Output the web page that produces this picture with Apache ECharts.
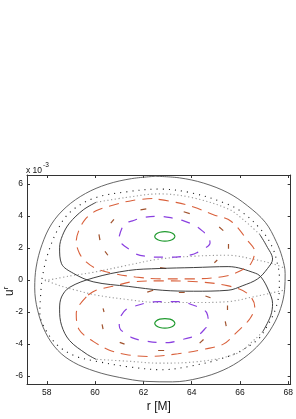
<!DOCTYPE html>
<html><head><meta charset="utf-8">
<script src="https://cdn.jsdelivr.net/npm/echarts@6/dist/echarts.min.js"></script>
<style>html,body{margin:0;padding:0;background:#fff}#c{width:296px;height:419px}</style>
</head><body><div id="c"></div>
<script>
// ---- data (r in M, u^r in units of 1e-3) ----
const X_TICKS = [58, 60, 62, 64, 66, 68];
const Y_TICKS = [-6, -4, -2, 0, 2, 4, 6];

const outerCurve = [[62.5,6.48],[63.5,6.38],[64.5,6.05],[65.5,5.45],[66.3,4.65],[67.05,3.6],[67.5,2.4],[67.75,1.4],[67.87,0.4],[67.85,-0.6],[67.68,-1.8],[67.35,-2.9],[66.85,-3.95],[66.15,-4.9],[65.3,-5.65],[64.3,-6.15],[63.2,-6.38],[62.1,-6.35],[61.0,-6.1],[60.0,-5.72],[59.1,-5.15],[58.45,-4.4],[57.95,-3.3],[57.62,-1.9],[57.5,-0.5],[57.56,0.8],[57.8,2.2],[58.2,3.5],[58.8,4.55],[59.6,5.4],[60.5,5.98],[61.5,6.33],[62.5,6.48]];

const dottedBlack = [[57.80,0.06],[58.0,1.42],[58.41,3.02],[58.94,4.20],[59.92,5.09],[61.27,5.50],[62.65,5.68],[64.0,5.44],[65.39,4.79],[66.12,4.20],[66.94,3.02],[67.35,2.01],[67.55,1.01],[67.63,0.24],[67.63,-0.53],[67.47,-1.83],[67.1,-2.96],[66.65,-3.85],[65.51,-4.79],[64.0,-5.38],[62.78,-5.62],[61.39,-5.44],[60.04,-5.09],[59.22,-4.79],[58.53,-4.20],[58.0,-3.25],[57.71,-2.07],[57.80,0.06]];

const upperLobeSolid = [[60.04,4.85],[59.51,4.38],[58.94,3.55],[58.65,2.78],[58.53,2.01],[58.61,1.01],[59.10,0.41],[59.92,-0.12],[61.39,-0.41],[62.78,-0.65],[64.08,-0.71],[65.51,-0.65],[66.12,-0.36],[66.73,0.06],[67.14,0.71],[67.35,1.30],[67.10,2.13],[66.82,2.84]];
const upperLobeTop = [[66.82,2.84],[66.12,3.79],[65.51,4.44],[64.0,5.15],[62.65,5.38],[61.27,5.15],[60.04,4.85]];

const lowerLobeSolid = [[60.04,-4.97],[59.63,-4.62],[58.94,-3.79],[58.61,-2.84],[58.53,-1.83],[58.61,-1.07],[58.94,-0.47],[59.92,0.12],[61.39,0.59],[62.65,0.71],[64.08,0.77],[65.51,0.83],[66.65,0.41],[66.90,0.12],[67.18,-0.65],[67.35,-1.48],[67.27,-2.25],[66.94,-3.25]];
const lowerLobeBottom = [[66.94,-3.25],[66.65,-3.67],[65.84,-4.62],[64.0,-5.15],[62.65,-5.21],[61.39,-5.09],[60.04,-4.97]];

const midArcUpper = [[57.92,-0.06],[58.94,0.24],[59.92,0.47],[61.27,0.89],[62.65,1.30],[64.08,1.48],[65.51,1.54],[66.53,1.30],[67.35,1.01],[67.80,0.77]];
const midArcLower = [[57.92,0.0],[58.53,-0.36],[59.22,-0.65],[60.04,-0.95],[61.39,-1.24],[62.65,-1.42],[64.08,-1.42],[65.51,-1.36],[66.53,-1.07],[67.27,-0.83],[67.80,-0.65]];

const orangeUpper = [[62.37,5.09],[61.55,4.97],[60.73,4.67],[60.04,4.32],[59.59,3.79],[59.31,3.02],[59.22,2.43],[59.35,1.66],[59.63,1.12],[60.04,0.71],[60.73,0.41],[61.67,0.18],[62.78,0.06],[63.92,0.06],[65.43,0.24],[66.12,0.65],[66.45,1.01],[66.61,1.78],[66.33,2.43],[65.63,3.67],[64.90,4.08],[64.08,4.56],[63.35,4.85],[62.37,5.09]];
const orangeLower = [[59.71,-0.95],[60.04,-0.65],[60.86,-0.36],[61.55,-0.12],[62.78,-0.06],[64.24,-0.12],[65.47,-0.36],[66.29,-0.83],[66.61,-1.66],[66.41,-2.43],[65.84,-3.31],[65.31,-4.02],[64.57,-4.32],[63.43,-4.62],[62.2,-4.79],[61.27,-4.67],[60.57,-4.38],[59.92,-3.85],[59.35,-3.14],[59.22,-2.13],[59.31,-1.66],[59.71,-0.95]];

const purpleUpper = [[61.0,2.72],[61.21,3.49],[61.55,3.69],[61.96,3.89],[62.57,3.98],[63.13,3.89],[63.67,3.69],[64.15,3.39],[64.49,3.0],[64.69,2.70],[64.76,2.31],[64.53,1.95],[64.24,1.72],[64.01,1.58],[63.54,1.46],[63.06,1.42],[62.65,1.42],[62.16,1.46],[61.69,1.62],[61.42,1.91],[61.14,2.21],[61.0,2.50],[61.0,2.72]];
const purpleLower = [[61.07,-2.25],[61.28,-1.85],[61.69,-1.62],[62.2,-1.42],[62.65,-1.36],[63.06,-1.36],[63.60,-1.36],[64.01,-1.56],[64.36,-1.76],[64.62,-2.05],[64.69,-2.74],[64.56,-3.04],[64.29,-3.43],[63.88,-3.63],[63.60,-3.73],[63.06,-3.92],[62.65,-3.92],[61.96,-3.79],[61.55,-3.63],[61.28,-3.33],[61.07,-3.14],[61.0,-2.84],[61.02,-2.49],[61.07,-2.25]];

const greenUpper = [[63.31,2.72],[63.25,2.87],[63.10,2.98],[62.89,3.02],[62.68,2.98],[62.53,2.87],[62.47,2.72],[62.53,2.57],[62.68,2.46],[62.89,2.42],[63.10,2.46],[63.25,2.57],[63.31,2.72]];
const greenLower = [[63.31,-2.72],[63.25,-2.57],[63.10,-2.46],[62.89,-2.42],[62.68,-2.46],[62.53,-2.57],[62.47,-2.72],[62.53,-2.87],[62.68,-2.98],[62.89,-3.02],[63.10,-2.98],[63.25,-2.87],[63.31,-2.72]];

const brownDashes = [
  [[60.16,2.84],[60.20,2.49]], [[60.65,3.55],[60.78,3.79]], [[61.88,4.38],[62.12,4.44]],
  [[63.67,4.26],[63.92,4.14]], [[65.14,3.31],[65.31,3.08]], [[65.51,2.25],[65.51,1.95]],
  [[65.06,1.24],[64.94,1.07]], [[62.69,0.77],[62.94,0.71]], [[60.41,1.78],[60.53,1.54]],
  [[60.33,-1.78],[60.37,-2.01]], [[60.29,-2.78],[60.33,-3.08]], [[61.02,-3.91],[61.22,-4.02]],
  [[62.61,-4.38],[62.86,-4.38]], [[64.49,-3.73],[64.33,-3.96]], [[65.39,-2.60],[65.43,-2.90]],
  [[65.47,-1.60],[65.47,-1.89]], [[64.57,-1.01],[64.78,-1.12]], [[63.47,-0.77],[63.71,-0.77]],
  [[62.16,-0.77],[62.41,-0.65]]
];

// ---- chart ----
const chart = echarts.init(document.getElementById('c'), null, {renderer: 'canvas'});
function ln(data, color, width, type, smooth) {
  return {type: 'line', data: data, showSymbol: false, symbol: 'none', smooth: smooth === undefined ? 0.35 : smooth,
    lineStyle: {color: color, width: width, type: type}, silent: true, animation: false, clip: true};
}
const axisCommon = {type: 'value', splitLine: {show: false},
  axisLine: {show: true, onZero: false, lineStyle: {color: '#333', width: 1}}};
const FONT = 'Liberation Sans, Arial, sans-serif';
chart.setOption({
  animation: false,
  grid: {left: 27, right: 2, top: 175, bottom: 23, containLabel: false},
  xAxis: [
    Object.assign({}, axisCommon, {min: 57.18, max: 68.1, position: 'bottom',
      axisTick: {show: true, inside: true, length: 3, customValues: X_TICKS, lineStyle: {color: '#333'}},
      axisLabel: {show: true, customValues: X_TICKS, margin: 4, fontSize: 8.5, color: '#111', fontFamily: FONT},
      name: 'r [M]', nameLocation: 'middle', nameGap: 17,
      nameTextStyle: {fontSize: 12, color: '#111', fontFamily: FONT}}),
    Object.assign({}, axisCommon, {min: 57.18, max: 68.1, position: 'top',
      axisTick: {show: true, inside: true, length: 3, customValues: X_TICKS, lineStyle: {color: '#333'}},
      axisLabel: {show: false}})
  ],
  yAxis: [
    Object.assign({}, axisCommon, {min: -6.52, max: 6.56, position: 'left',
      axisTick: {show: true, inside: true, length: 3, customValues: Y_TICKS, lineStyle: {color: '#333'}},
      axisLabel: {show: true, customValues: Y_TICKS, margin: 4, fontSize: 8.5, color: '#111', fontFamily: FONT}}),
    Object.assign({}, axisCommon, {min: -6.52, max: 6.56, position: 'right',
      axisTick: {show: true, inside: true, length: 3, customValues: Y_TICKS, lineStyle: {color: '#333'}},
      axisLabel: {show: false}})
  ],
  graphic: [
    {type: 'text', left: 26, top: 162, style: {
      text: '{a|x 10}{b|-3}', fill: '#111',
      rich: {a: {fontSize: 8.5, fontFamily: FONT, verticalAlign: 'bottom'},
             b: {fontSize: 6.5, fontFamily: FONT, verticalAlign: 'top', padding: [0, 0, 6, 1]}}}},
    {type: 'text', x: 2, y: 296, rotation: Math.PI / 2, style: {
      text: '{a|u}{b|r}', fill: '#111',
      rich: {a: {fontSize: 12, fontFamily: FONT}, b: {fontSize: 8, fontFamily: FONT, padding: [0, 0, 7, 0]}}}}
  ],
  series: [
    ln(outerCurve, '#555', 0.9, 'solid'),
    ln(dottedBlack, '#222', 1.1, [1.1, 5]),
    ln(upperLobeTop, '#999', 1.1, [1.2, 2.5]),
    ln(lowerLobeBottom, '#999', 1.1, [1.2, 2.5]),
    ln(midArcUpper, '#999', 1.1, [1.2, 2.5]),
    ln(midArcLower, '#999', 1.1, [1.2, 2.5]),
    ln(upperLobeSolid, '#2a2a2a', 0.9, 'solid'),
    ln(lowerLobeSolid, '#2a2a2a', 0.9, 'solid'),
    ln(orangeUpper, '#d9603b', 1.1, [10, 7]),
    ln(orangeLower, '#d9603b', 1.1, [10, 7]),
    ln(purpleUpper, '#8a3fe0', 1.2, [9, 9]),
    ln(purpleLower, '#8a3fe0', 1.2, [9, 9]),
    ln(greenUpper, '#1f9a2e', 1.2, 'solid'),
    ln(greenLower, '#1f9a2e', 1.2, 'solid'),
    {type: 'lines', coordinateSystem: 'cartesian2d', silent: true, animation: false,
      lineStyle: {color: '#a0522d', width: 1.2, opacity: 1},
      data: brownDashes.map(function (d) { return {coords: d}; })}
  ]
});
</script>
</body></html>
